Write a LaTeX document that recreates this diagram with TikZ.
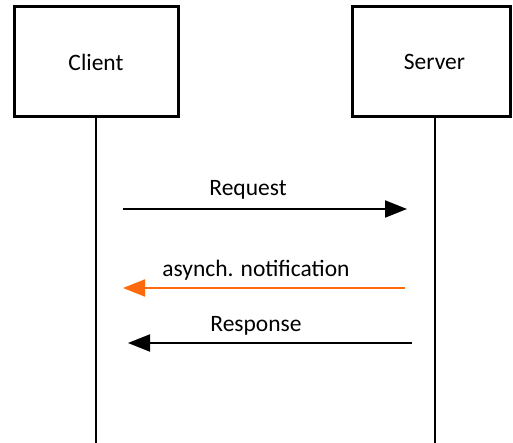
\documentclass[tikz,border=0pt]{standalone}
\usepackage{fontspec}
\setmainfont{Carlito}
\usetikzlibrary{arrows.meta}
\definecolor{notify}{HTML}{FF6A0D}
\begin{document}
\begin{tikzpicture}[x=1pt,y=-1pt,
  actor/.style={draw=black,line width=3pt,minimum height=110pt,inner sep=0pt,font=\fontsize{23.5}{26}\selectfont},
  lifeline/.style={line width=2pt,black},
  msg/.style={line width=2pt,-{Triangle[length=22pt,width=17pt]}},
  lbl/.style={font=\fontsize{23.5}{26}\selectfont,inner sep=0pt}]
\useasboundingbox (0,0) rectangle (513,443);
\node[actor,minimum width=164pt] (client) at (96,62) {Client};
\node[actor,minimum width=158pt] (server) at (431,62) {\hspace*{7pt}Server};
\coordinate (cend) at (96,443);
\coordinate (send) at (435,443);
\coordinate (stop) at (435,117);
\draw[lifeline] (client.south) -- (cend);
\draw[lifeline] (stop) -- (send);
% message end points on the lifelines
\coordinate (req1) at (123,209);
\coordinate (req2) at (407,209);
\coordinate (not1) at (405,288);
\coordinate (not2) at (123,288);
\coordinate (res1) at (412,343);
\coordinate (res2) at (128,343);
\draw[msg] (req1) -- (req2);
\draw[msg,notify] (not1) -- (not2);
\draw[msg] (res1) -- (res2);
\node[lbl] (reqlbl) at (248,190) {Request};
\node[lbl] (notlbl) at (256,270) {asynch. notification};
\node[lbl] (reslbl) at (256,326) {Response};
\end{tikzpicture}
\end{document}
